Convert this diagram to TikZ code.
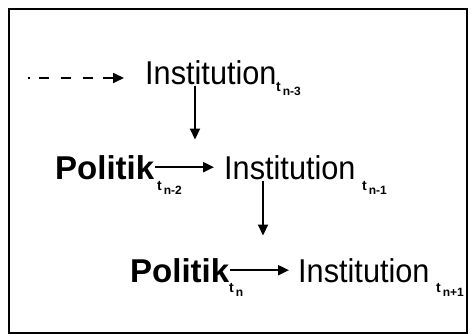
\documentclass[tikz,border=0pt]{standalone}
\usepackage{fontspec}
\setmainfont{Liberation Sans}
\newfontfamily\instfont[FakeStretch=0.93]{Liberation Sans}
\usetikzlibrary{arrows.meta,calc}
\begin{document}
\begin{tikzpicture}[x=1pt,y=-1pt,
  inst/.style={inner sep=0pt,anchor=base west,font=\instfont\fontsize{33}{33}\selectfont},
  pol/.style={inner sep=0pt,anchor=base west,font=\fontsize{33}{33}\selectfont\bfseries},
  subt/.style={inner sep=0pt,anchor=base west,font=\fontsize{14}{14}\selectfont\bfseries},
  arr/.style={line width=2pt,-{Triangle[length=11pt,width=10pt]}},
  frame/.style={line width=2pt}]
\newcommand{\ssub}[1]{\lower3.5pt\hbox{\fontsize{12}{12}\selectfont\bfseries #1}}
\useasboundingbox (0,0) rectangle (471,336);
\draw[frame] (9,9) rectangle (467,333);
% row 1
\node[inst] (i1) at (145,85) {Institution};
\node[subt] (s1) at (276,92) {t\ssub{\,n-3}};
\coordinate (d0) at (28,78);
\draw[line width=2pt,dash pattern=on 1.5pt off 9pt on 10pt off 12pt on 10pt off 12pt on 10pt off 10pt on 40pt,-{Triangle[length=11pt,width=10pt]}] (d0) -- (d0 -| 124,0);
% row 2
\node[pol] (p1) at (55,180) {Politik};
\node[subt] (s2) at (157,191) {t\ssub{\,n-2}};
\node[inst] (i2) at (224,180) {Institution};
\node[subt] (s3) at (362,191) {t\ssub{\,n-1}};
% row 3
\node[pol] (p2) at (130,283) {Politik};
\node[subt] (s4) at (229,293) {t\ssub{\,n}};
\node[inst] (i3) at (298,283) {Institution};
\node[subt] (s5) at (436,293) {t\ssub{\,n+1}};
% connectors
\coordinate (v1) at (195,0);
\coordinate (v2) at (263,0);
\draw[arr] (i1.south -| v1) -- ($(i1.south -| v1)+(0,54)$);
\draw[arr] ($(p1.east)+(1,-1)$) -- ($(i2.west)+(-10,-1)$);
\draw[arr] (i2.south -| v2) -- ($(i2.south -| v2)+(0,55)$);
\draw[arr] ($(p2.east)+(1,-1)$) -- ($(i3.west)+(-9,-1)$);
\end{tikzpicture}
\end{document}
